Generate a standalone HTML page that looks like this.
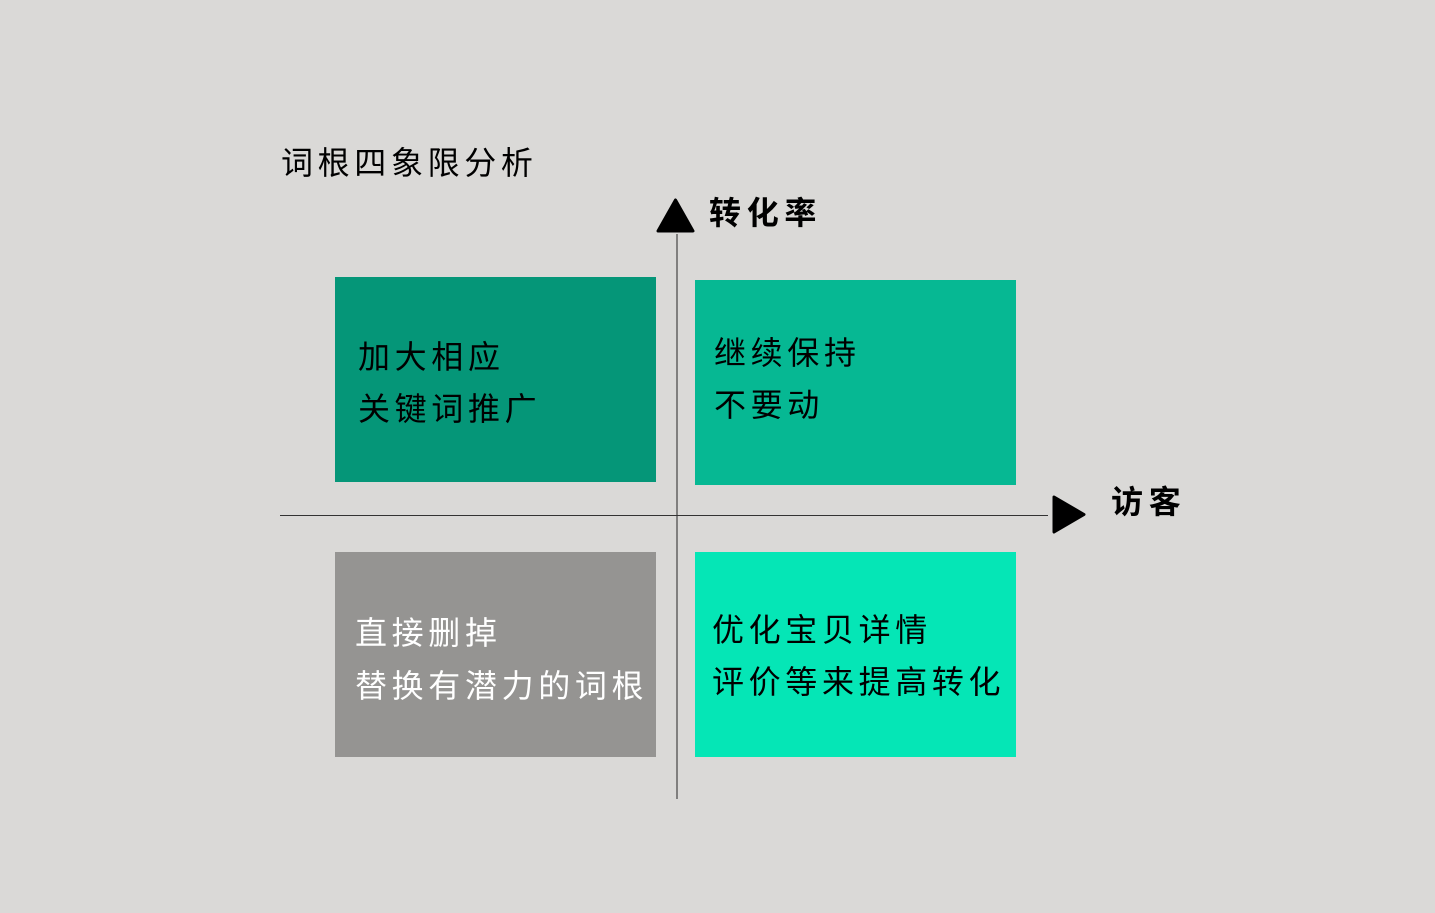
<!DOCTYPE html>
<html><head><meta charset="utf-8"><style>
html,body{margin:0;padding:0;width:1435px;height:913px;overflow:hidden;background:#dad9d7}
.a{position:absolute}
.t{position:absolute;white-space:nowrap;font-family:"Liberation Sans","WenQuanYi Zen Hei","Noto Sans CJK SC",sans-serif;font-size:32px;line-height:40px;letter-spacing:4.65px;color:#000}
.b{font-weight:700;letter-spacing:5.7px}
</style></head><body>
<div class="a" style="left:335px;top:277px;width:321px;height:205px;background:#059678"></div>
<div class="a" style="left:695px;top:280px;width:321px;height:205px;background:#06b893"></div>
<div class="a" style="left:335px;top:552px;width:321px;height:205px;background:#959492"></div>
<div class="a" style="left:695px;top:552px;width:321px;height:205px;background:#05e6b6"></div>
<svg class="a" style="left:0;top:0" width="1435" height="913">
<line x1="677" y1="234" x2="677" y2="799" stroke="#444" stroke-width="1.2"/>
<line x1="280" y1="515.5" x2="1048" y2="515.5" stroke="#333" stroke-width="1"/>
<polygon points="675.5,200 693,231 658,231" fill="#000" stroke="#000" stroke-width="3" stroke-linejoin="round"/>
<polygon points="1054,497 1084,514.5 1054,532" fill="#000" stroke="#000" stroke-width="3" stroke-linejoin="round"/>
</svg>
<div class="t" style="left:281px;top:143px">词根四象限分析</div>
<div class="t b" style="left:709px;top:193px">转化率</div>
<div class="t b" style="left:1111px;top:482px">访客</div>
<div class="t" style="left:358px;top:337px">加大相应</div>
<div class="t" style="left:358px;top:389px">关键词推广</div>
<div class="t" style="left:714px;top:333px">继续保持</div>
<div class="t" style="left:714px;top:385px">不要动</div>
<div class="t" style="left:355px;top:613px;color:#fff">直接删掉</div>
<div class="t" style="left:355px;top:666px;color:#fff">替换有潜力的词根</div>
<div class="t" style="left:712px;top:610px">优化宝贝详情</div>
<div class="t" style="left:712px;top:662px">评价等来提高转化</div>
</body></html>
